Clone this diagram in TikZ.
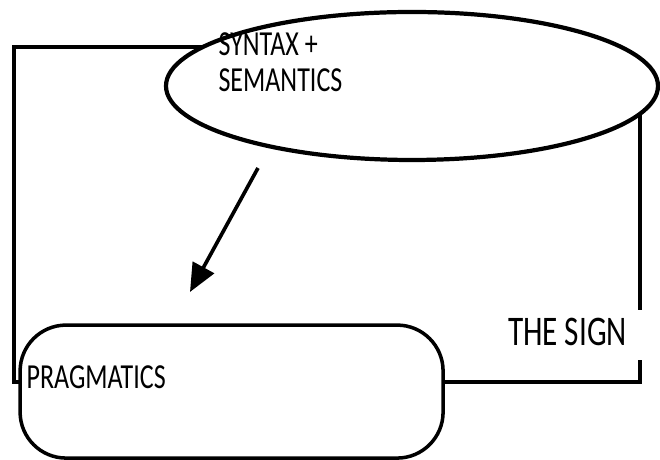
\documentclass[tikz,border=0pt]{standalone}
\usepackage{fontspec}
\setmainfont{Carlito}[FakeStretch=0.74]
\usetikzlibrary{arrows.meta,positioning,shapes.geometric}

\begin{document}
\begin{tikzpicture}[line width=2.5pt,
  lbl/.style={inner sep=0pt, font=\fontsize{25}{25.5}\selectfont, align=left}]
\useasboundingbox (0,0) rectangle (16.5,11.5);
% outer frame of the sign, open at the label and under the ellipse
\draw (16,3.75) -- (16,8.9);
\draw (5.4,10.325) -- (0.35,10.325) -- (0.35,1.95) -- (16,1.95) -- (16,2.5);
\node[draw, ellipse, fill=white, line width=3pt, minimum width=12.3cm, minimum height=3.7cm] (synsem) at (10.3,9.35) {};
\node[draw, rounded corners=1.15cm, fill=white, minimum width=10.575cm, minimum height=3.325cm] (prag) at (5.79,1.71) {};
\node[lbl, anchor=west] (synsemtext) at (5.42,9.95) {SYNTAX +\\SEMANTICS};
\node[lbl, anchor=west] (pragtext) at (0.62,2.075) {PRAGMATICS};
\node[lbl, anchor=east, font=\fontsize{30}{32}\selectfont] (sign) at (15.72,3.2) {THE SIGN};
\coordinate (a1) at (6.45,7.3);
\coordinate (a2) at (4.75,4.2);
\draw[-{Triangle[length=20pt,width=17pt]}, line width=2.6pt] (a1) -- (a2);
\end{tikzpicture}
\end{document}
